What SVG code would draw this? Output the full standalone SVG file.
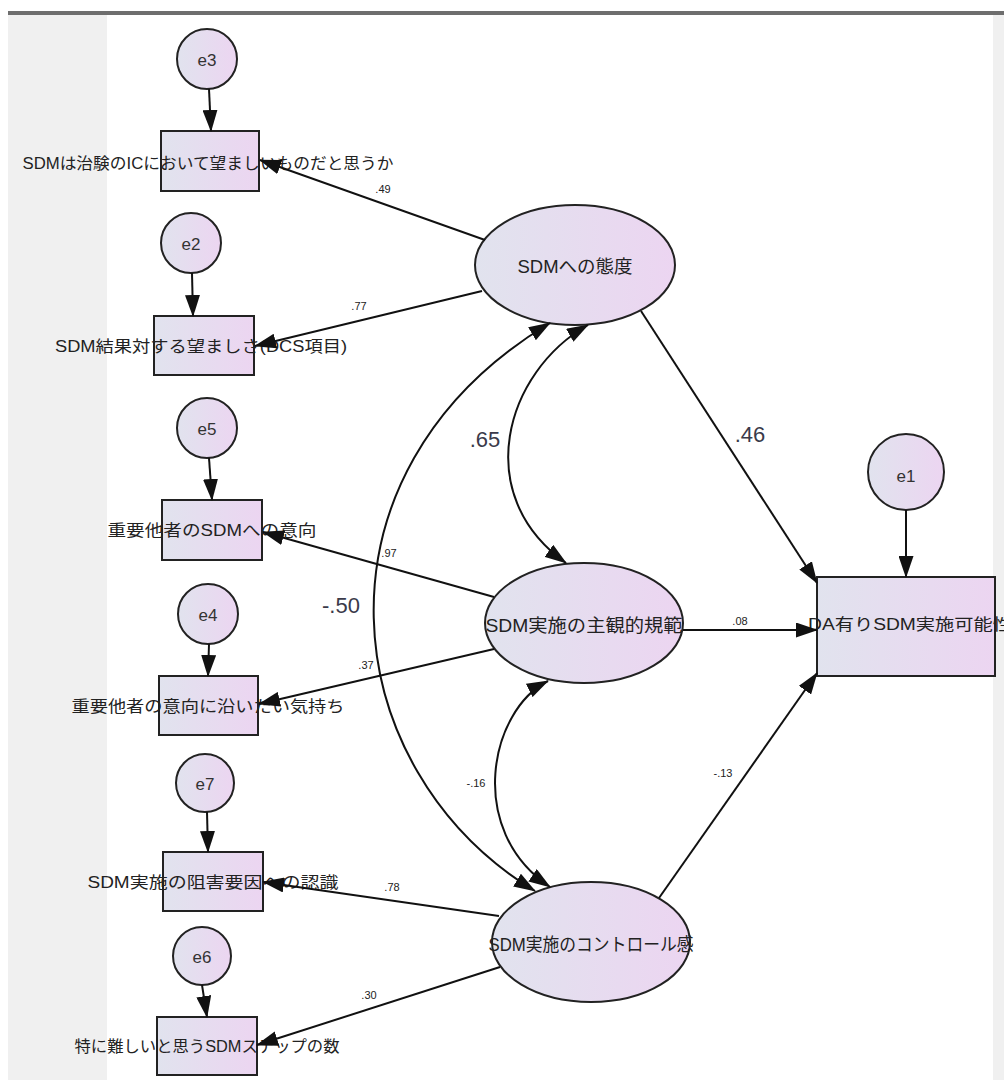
<svg xmlns="http://www.w3.org/2000/svg" width="1004" height="1080" viewBox="0 0 1004 1080">
  <defs>
    <linearGradient id="fillGrad" x1="0" y1="0" x2="1" y2="0">
      <stop offset="0" stop-color="#e1e3ee"/>
      <stop offset="1" stop-color="#ecd5f1"/>
    </linearGradient>
    <marker id="ah" viewBox="0 0 22 15" markerWidth="22" markerHeight="15" refX="21" refY="7.5" orient="auto-start-reverse" markerUnits="userSpaceOnUse">
      <path d="M0,0 L22,7.5 L0,15 z" fill="#111"/>
    </marker>
    <style>
      .node { fill: url(#fillGrad); stroke: #222; stroke-width: 2; }
      .lbl { font-family: "Liberation Sans", "Noto Sans CJK JP", sans-serif; fill: #222; text-anchor: middle; dominant-baseline: central; }
      .obs { font-size: 16px; }
      .lat { font-size: 18px; }
      .err { font-size: 17px; fill: #333; }
      .coef { font-family: "Liberation Sans", sans-serif; font-size: 11px; fill: #222; text-anchor: middle; dominant-baseline: central; }
      .coefBig { font-family: "Liberation Sans", sans-serif; font-size: 22px; fill: #3a3a4a; text-anchor: middle; dominant-baseline: central; }
      .edge { fill: none; stroke: #111; stroke-width: 2; marker-end: url(#ah); }
      .cov { fill: none; stroke: #111; stroke-width: 2; marker-start: url(#ah); marker-end: url(#ah); }
    </style>
  </defs>

  <!-- canvas frame -->
  <rect x="0" y="0" width="1004" height="1080" fill="#ffffff"/>
  <rect x="8" y="15" width="99" height="1065" fill="#f0f0f0"/>
  <rect x="993" y="15" width="11" height="1065" fill="#f0f0f0"/>
  <rect x="8" y="11" width="996" height="4" fill="#6e6e6e"/>

  <!-- error terms -->
  <g id="e3"><circle class="node" cx="207" cy="59" r="30"/><text class="lbl err" x="207" y="60">e3</text></g>
  <g id="e2"><circle class="node" cx="191" cy="243" r="30"/><text class="lbl err" x="191" y="244">e2</text></g>
  <g id="e5"><circle class="node" cx="207" cy="428" r="30"/><text class="lbl err" x="207" y="429">e5</text></g>
  <g id="e4"><circle class="node" cx="208" cy="614" r="30"/><text class="lbl err" x="208" y="615">e4</text></g>
  <g id="e7"><circle class="node" cx="205" cy="783" r="29"/><text class="lbl err" x="205" y="784">e7</text></g>
  <g id="e6"><circle class="node" cx="202" cy="956" r="29"/><text class="lbl err" x="202" y="957">e6</text></g>
  <g id="e1"><circle class="node" cx="906" cy="472" r="38"/><text class="lbl err" x="906" y="476">e1</text></g>

  <!-- observed variables -->
  <g id="obs1"><rect class="node" x="161" y="131" width="98" height="60"/><text class="lbl obs" x="208" y="163" textLength="371" lengthAdjust="spacingAndGlyphs">SDMは治験のICにおいて望ましいものだと思うか</text></g>
  <g id="obs2"><rect class="node" x="154" y="316" width="100" height="59"/><text class="lbl obs" x="201" y="346" textLength="292" lengthAdjust="spacingAndGlyphs">SDM結果対する望ましさ(DCS項目)</text></g>
  <g id="obs3"><rect class="node" x="162" y="500" width="100" height="60"/><text class="lbl obs" x="212" y="530" textLength="209" lengthAdjust="spacingAndGlyphs">重要他者のSDMへの意向</text></g>
  <g id="obs4"><rect class="node" x="159" y="676" width="99" height="59"/><text class="lbl obs" x="208" y="706" textLength="273" lengthAdjust="spacingAndGlyphs">重要他者の意向に沿いたい気持ち</text></g>
  <g id="obs5"><rect class="node" x="163" y="852" width="100" height="59"/><text class="lbl obs" x="213" y="882" textLength="251" lengthAdjust="spacingAndGlyphs">SDM実施の阻害要因への認識</text></g>
  <g id="obs6"><rect class="node" x="157" y="1017" width="100" height="58"/><text class="lbl obs" x="207" y="1046" textLength="265" lengthAdjust="spacingAndGlyphs">特に難しいと思うSDMステップの数</text></g>
  <g id="outcome"><rect class="node" x="817" y="577" width="178" height="99"/><text class="lbl obs" x="910" y="624" textLength="204" lengthAdjust="spacingAndGlyphs">DA有りSDM実施可能性</text></g>

  <!-- latent variables -->
  <g id="attitude"><ellipse class="node" cx="575" cy="265" rx="100" ry="60"/><text class="lbl lat" x="575" y="267" textLength="115" lengthAdjust="spacingAndGlyphs">SDMへの態度</text></g>
  <g id="norm"><ellipse class="node" cx="584" cy="623" rx="99" ry="60"/><text class="lbl lat" x="584" y="626" textLength="197" lengthAdjust="spacingAndGlyphs">SDM実施の主観的規範</text></g>
  <g id="control"><ellipse class="node" cx="591" cy="942" rx="99" ry="60"/><text class="lbl lat" x="591" y="945" textLength="205" lengthAdjust="spacingAndGlyphs">SDM実施のコントロール感</text></g>

  <!-- connectors -->
  <g id="connectors">
    <!-- error paths -->
    <path class="edge" d="M209,89 L211,131"/>
    <path class="edge" d="M192,273 L193,316"/>
    <path class="edge" d="M209,458 L212,500"/>
    <path class="edge" d="M209,644 L208,676"/>
    <path class="edge" d="M207,812 L208,852"/>
    <path class="edge" d="M202,985 L207,1017"/>
    <path class="edge" d="M906,510 L906,577"/>
    <!-- loadings -->
    <path class="edge" d="M485,240 L260,160"/>
    <path class="edge" d="M482,291 L255,346"/>
    <path class="edge" d="M494,597 L263,532"/>
    <path class="edge" d="M494,649 L259,704"/>
    <path class="edge" d="M499,916 L263,882"/>
    <path class="edge" d="M500,967 L257,1045"/>
    <!-- structural paths -->
    <path class="edge" d="M641,311 L817,583"/>
    <path class="edge" d="M683,630 L817,630"/>
    <path class="edge" d="M659,898 L817,673"/>
    <!-- covariances -->
    <path class="cov" d="M588,325 C505,372 470,495 566,563"/>
    <path class="cov" d="M550,323 C300,473 335,770 535,891"/>
    <path class="cov" d="M548,681 C490,710 465,830 550,887"/>
  </g>

  <!-- coefficients -->
  <g id="coefficients">
    <text class="coef" x="383" y="189">.49</text>
    <text class="coef" x="359" y="306">.77</text>
    <text class="coef" x="389" y="553">.97</text>
    <text class="coef" x="366" y="665">.37</text>
    <text class="coef" x="392" y="887">.78</text>
    <text class="coef" x="369" y="995">.30</text>
    <text class="coef" x="740" y="621">.08</text>
    <text class="coef" x="723" y="773">-.13</text>
    <text class="coef" x="476" y="783">-.16</text>
    <text class="coefBig" x="485" y="439">.65</text>
    <text class="coefBig" x="341" y="605">-.50</text>
    <text class="coefBig" x="750" y="434">.46</text>
  </g>
</svg>
